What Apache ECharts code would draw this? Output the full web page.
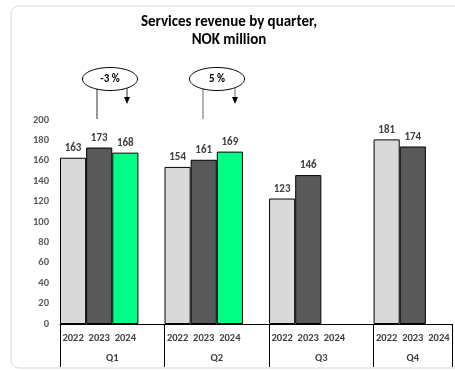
<!DOCTYPE html>
<html>
<head>
<meta charset="utf-8">
<script src="https://cdn.jsdelivr.net/npm/echarts@6/dist/echarts.min.js"></script>
<style>html,body{margin:0;padding:0;background:#fff;}#c{width:455px;height:371px;}</style>
</head>
<body>
<div id="c"></div>
<script>
const years = ['2022', '2023', '2024'];
const quarters = ['Q1', 'Q2', 'Q3', 'Q4'];
const rev2022 = [163, 154, 123, 181];
const rev2023 = [173, 161, 146, 174];
const rev2024 = [168, 169, null, null];
const changes = ['-3 %', '5 %'];
const yTicks = [0, 20, 40, 60, 80, 100, 120, 140, 160, 180, 200];

const FONT = "Carlito, 'Liberation Sans Narrow', 'Liberation Sans', sans-serif";
const colors = ['#D9D9D9', '#595959', '#00FF85'];
const seriesValues = [rev2022, rev2023, rev2024];

// slots: each quarter has 3 years plus a blank spacer, except the last
const categories = [];
const slotIndex = [];
const quarterStart = [];
quarters.forEach((q, qi) => {
  quarterStart.push(categories.length);
  slotIndex.push(years.map((y, yi) => categories.length + yi));
  years.forEach(y => categories.push(y));
  if (qi < quarters.length - 1) categories.push('');
});
const total = categories.length;
const quarterBounds = quarterStart.concat([total]);
const quarterCenters = quarters.map((q, qi) => quarterStart[qi] + (qi < quarters.length - 1 ? 2 : 1.5));

const series = years.map((y, yi) => {
  const data = new Array(total).fill(null);
  quarters.forEach((q, qi) => { data[slotIndex[qi][yi]] = seriesValues[yi][qi]; });
  return {
    name: y, type: 'bar', xAxisIndex: 0, data,
    barGap: '-100%', barCategoryGap: '0%',
    itemStyle: { color: colors[yi], borderColor: '#000', borderWidth: 1 },
    label: { show: true, position: 'top', distance: 4, color: '#404040', fontWeight: 'bold', fontSize: 11, fontFamily: FONT }
  };
});

const chart = echarts.init(document.getElementById('c'), null, { renderer: 'canvas' });

function annot(cx, cy, text, lineX, arrowX, lineColor) {
  return [
    { type: 'line', shape: { x1: lineX, y1: cy + 9, x2: lineX, y2: 119 }, style: { stroke: lineColor, lineWidth: 1 } },
    { type: 'line', shape: { x1: arrowX, y1: cy + 9, x2: arrowX, y2: 99 }, style: { stroke: lineColor, lineWidth: 1 } },
    { type: 'polygon', shape: { points: [[arrowX - 3, 97], [arrowX + 3, 97], [arrowX, 104]] }, style: { fill: '#000' } },
    { type: 'ellipse', shape: { cx, cy, rx: 27.5, ry: 11.5 }, style: { fill: '#fff', stroke: '#000', lineWidth: 1 } },
    { type: 'text', style: { text, x: cx, y: cy, align: 'center', verticalAlign: 'middle', fill: '#000', font: 'bold 11px ' + FONT } }
  ];
}

chart.setOption({
  animation: false,
  backgroundColor: '#fff',
  title: {
    text: 'Services revenue by quarter,\nNOK million',
    left: 224, top: 8, textAlign: 'center',
    textStyle: { fontSize: 15, fontWeight: 'bold', color: '#000', lineHeight: 18, fontFamily: FONT }
  },
  grid: { left: 60, right: 3, top: 120, bottom: 47 },
  xAxis: [
    {
      type: 'category', data: categories, position: 'bottom',
      axisLine: { show: true, lineStyle: { color: '#000', width: 1 } },
      axisTick: { show: false },
      axisLabel: { interval: 0, margin: 9, color: '#404040', fontWeight: 'bold', fontSize: 10.5, fontFamily: FONT }
    },
    {
      type: 'value', min: 0, max: total, position: 'bottom',
      axisLine: { show: false },
      splitLine: { show: false },
      axisTick: { show: true, customValues: quarterBounds, length: 43, lineStyle: { color: '#000', width: 1 } },
      axisLabel: {
        show: true, customValues: quarterCenters, margin: 29,
        color: '#404040', fontWeight: 'bold', fontSize: 10.5, fontFamily: FONT,
        formatter: v => quarters[quarterCenters.indexOf(v)] || ''
      }
    }
  ],
  yAxis: {
    type: 'value', min: yTicks[0], max: yTicks[yTicks.length - 1], interval: yTicks[1] - yTicks[0],
    axisLine: { show: false }, axisTick: { show: false }, splitLine: { show: false },
    axisLabel: { margin: 11, color: '#595959', fontWeight: 'bold', fontSize: 10.5, fontFamily: FONT }
  },
  series,
  graphic: [
    { type: 'rect', shape: { x: 11, y: 6, width: 470, height: 362, r: 8 }, style: { fill: 'none', stroke: '#D9D9D9', lineWidth: 1 }, silent: true, z: -10 }
  ].concat(annot(110, 79, changes[0], 97, 127, '#333'))
   .concat(annot(217, 79, changes[1], 203, 235, '#666'))
});
</script>
</body>
</html>
